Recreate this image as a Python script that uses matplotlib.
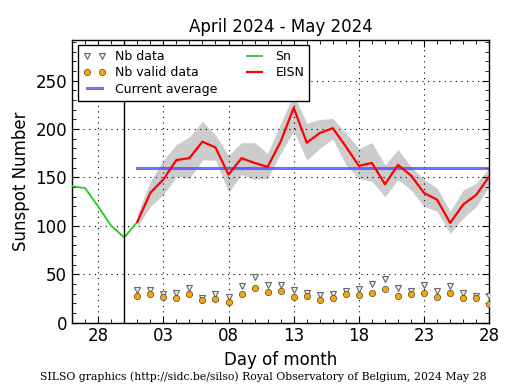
import numpy as np
import matplotlib
matplotlib.use("Agg")
import matplotlib.pyplot as plt
import matplotlib.dates as mdates

# Sn (daily sunspot number) before the current month
sn_dates = np.arange(np.datetime64("2024-04-26"), np.datetime64("2024-05-02"))
sn = [141, 139, 120, 100, 88, 104]

# EISN (estimated international sunspot number) for the current month
eisn_dates = np.arange(np.datetime64("2024-05-01"), np.datetime64("2024-05-29"))
eisn = [104, 134, 148, 168, 170, 187, 181, 153, 170, 165, 161, 187, 222, 186,
        196, 201, 182, 162, 165, 143, 163, 152, 134, 127, 103, 122, 132, 151]
eisn_lo = [99, 120, 132, 151, 149, 168, 168, 135, 153, 148, 149, 175, 198, 168,
           180, 190, 163, 149, 146, 130, 148, 137, 120, 115, 92, 108, 120, 141]
eisn_hi = [112, 146, 168, 184, 192, 208, 194, 173, 186, 186, 175, 206, 236, 206,
           210, 211, 196, 180, 186, 163, 179, 161, 148, 139, 115, 137, 144, 160]

# number of stations: all data / valid data
nb_data = [34, 34, 29, 31, 36, 25, 29, 26, 38, 47, 39, 39, 34, 31, 28, 30, 33,
           35, 40, 45, 36, 33, 39, 33, 38, 31, 27, 27]
nb_valid = [27, 30, 26, 25, 29, 23, 24, 21, 29, 36, 32, 33, 26, 27, 23, 25, 29,
            28, 31, 35, 27, 29, 31, 26, 31, 25, 25, 19]

month_start = np.datetime64("2024-04-30")
current_avg = np.mean(eisn)

fig = plt.figure(figsize=(5.15, 3.9), dpi=100)
ax = fig.add_axes([0.140, 0.173, 0.810, 0.724])

ax.fill_between(eisn_dates, eisn_lo, eisn_hi, color="#cccccc", lw=0, zorder=1)
ax.plot(sn_dates, sn, color="#22cc22", lw=1.3, label="Sn", zorder=3)
ax.plot(eisn_dates, eisn, color="red", lw=1.6, label="EISN", zorder=4)
ax.plot([eisn_dates[0], eisn_dates[-1]], [current_avg, current_avg],
        color="#5555ff", lw=2.2, alpha=0.85, label="Current average", zorder=2)
ax.plot(eisn_dates, nb_data, "v", ms=4, mfc="#f0f0f0", mec="#666666", mew=0.8,
        ls="none", label="Nb data", zorder=5)
ax.plot(eisn_dates, nb_valid, "o", ms=4.5, mfc="orange", mec="#444444", mew=0.5,
        ls="none", label="Nb valid data", zorder=6)
ax.axvline(month_start, color="black", lw=1, zorder=3)

ax.set_xlim(np.datetime64("2024-04-26"), np.datetime64("2024-05-28"))
ax.set_ylim(0, 292)
ax.xaxis.set_major_locator(mdates.DayLocator(bymonthday=[3, 8, 13, 18, 23, 28]))
ax.xaxis.set_major_formatter(mdates.DateFormatter("%d"))
ax.xaxis.set_minor_locator(mdates.DayLocator())
ax.set_yticks(range(0, 300, 50))
ax.set_yticks(range(0, 292, 10), minor=True)
ax.tick_params(which="both", direction="in", top=True, right=True, labelsize=12)
ax.tick_params(which="major", length=5)
ax.tick_params(which="minor", length=3)
ax.grid(True, which="major", color="black", ls=(0, (1, 4)), lw=0.8)
for s in ax.spines.values():
    s.set_linewidth(1)

ax.set_title("April 2024 - May 2024", fontsize=12)
ax.set_xlabel("Day of month", fontsize=12)
ax.set_ylabel("Sunspot Number", fontsize=12)

h, l = ax.get_legend_handles_labels()
order = [l.index(k) for k in ["Nb data", "Nb valid data", "Current average", "Sn", "EISN"]]
leg = ax.legend([h[i] for i in order], [l[i] for i in order], loc="upper left",
                ncol=2, numpoints=2, fontsize=9, fancybox=False, framealpha=1,
                edgecolor="black", handlelength=1.8, labelspacing=0.25,
                handletextpad=0.8, columnspacing=2.0, borderpad=0.4,
                borderaxespad=0, bbox_to_anchor=(0.014, 0.982))
leg.get_frame().set_linewidth(1)

fig.text(0.512, 0.02, "SILSO graphics (http://sidc.be/silso) Royal Observatory of Belgium, 2024 May 28",
         ha="center", va="bottom", family="DejaVu Serif", fontsize=7.8)

fig.savefig("out.png", dpi=100)
